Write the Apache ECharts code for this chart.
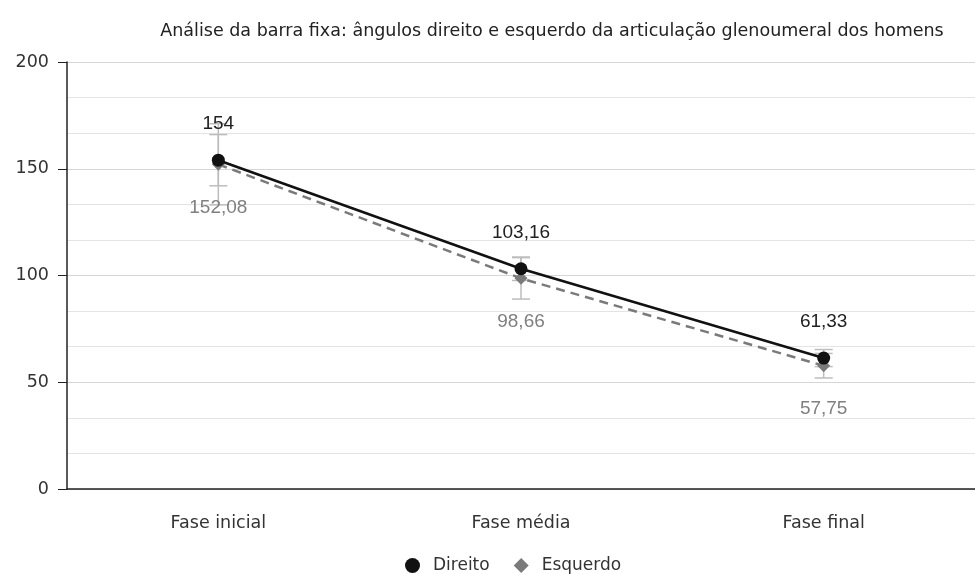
<!DOCTYPE html>
<html>
<head>
<meta charset="utf-8">
<script src="https://cdn.jsdelivr.net/npm/echarts@6/dist/echarts.min.js"></script>
<style>
  html, body { margin: 0; padding: 0; background: #fff; }
  #chart { width: 975px; height: 574px; }
</style>
</head>
<body>
<div id="chart"></div>
<script>
const categories = ['Fase inicial', 'Fase média', 'Fase final']
const direito = [154, 103.16, 61.33]
const esquerdo = [152.08, 98.66, 57.75]
// half-width of the error bars
const direitoErr = [12, 5.5, 4]
const esquerdoErr = [19, 9.7, 5.75]

const fmt = (v) => String(v).replace('.', ',')

function errorData(values, errs) {
  return values.map((v, i) => [i, v - errs[i], v + errs[i]])
}

function renderErrorBar(params, api) {
  const x = api.value(0)
  const low = api.coord([x, api.value(1)])
  const high = api.coord([x, api.value(2)])
  const half = 9
  const style = { stroke: '#bdbdbd', lineWidth: 1.5 }
  return {
    type: 'group',
    children: [
      { type: 'line', shape: { x1: low[0], y1: low[1], x2: high[0], y2: high[1] }, style },
      { type: 'line', shape: { x1: low[0] - half, y1: low[1], x2: low[0] + half, y2: low[1] }, style },
      { type: 'line', shape: { x1: high[0] - half, y1: high[1], x2: high[0] + half, y2: high[1] }, style },
    ],
  }
}

const chart = echarts.init(document.getElementById('chart'))

chart.setOption({
  animation: false,
  textStyle: { fontFamily: 'DejaVu Sans' },
  title: {
    text: 'Análise da barra fixa: ângulos direito e esquerdo da articulação glenoumeral dos homens',
    left: 547,
    top: 17,
    textAlign: 'center',
    textStyle: { fontSize: 17.5, fontWeight: 'normal', color: '#222', fontFamily: 'DejaVu Sans' },
  },
  legend: {
    top: 552,
    left: 400,
    itemWidth: 15,
    itemHeight: 15,
    itemGap: 24,
    textStyle: { fontSize: 17, color: '#333', padding: [0, 0, 0, 8] },
    data: [
      { name: 'Direito', icon: 'circle' },
      { name: 'Esquerdo', icon: 'diamond' },
    ],
  },
  grid: { left: 67, right: -11, top: 62, bottom: 85 },
  xAxis: {
    type: 'category',
    data: categories,
    axisLine: { lineStyle: { color: '#222', width: 1.5 } },
    axisTick: { alignWithLabel: true, length: 10, lineStyle: { color: '#222' } },
    axisLabel: { color: '#333', fontSize: 17.5, margin: 25 },
  },
  yAxis: {
    type: 'value',
    min: 0,
    max: 200,
    interval: 50,
    axisLine: { show: true, lineStyle: { color: '#222', width: 1.5 } },
    axisTick: { show: true, length: 9, lineStyle: { color: '#222' } },
    axisLabel: { color: '#333', fontSize: 17.5, margin: 18 },
    splitLine: { lineStyle: { color: '#d6d6d6' } },
    minorTick: { show: false, splitNumber: 3 },
    minorSplitLine: { show: true, lineStyle: { color: '#e4e4e4' } },
  },
  series: [
    {
      type: 'custom',
      name: 'errD',
      renderItem: renderErrorBar,
      data: errorData(direito, direitoErr),
      z: 1,
      silent: true,
    },
    {
      type: 'custom',
      name: 'errE',
      renderItem: renderErrorBar,
      data: errorData(esquerdo, esquerdoErr),
      z: 1,
      silent: true,
    },
    {
      name: 'Esquerdo',
      type: 'line',
      data: esquerdo,
      symbol: 'diamond',
      symbolSize: 13,
      itemStyle: { color: '#7a7a7a' },
      lineStyle: { color: '#7a7a7a', width: 2.5, type: [9, 6] },
      label: {
        show: true,
        position: 'bottom',
        distance: 27,
        color: '#808080',
        fontSize: 19,
        fontFamily: 'Liberation Sans',
        formatter: (p) => fmt(p.value),
      },
      z: 3,
    },
    {
      name: 'Direito',
      type: 'line',
      data: direito,
      symbol: 'circle',
      symbolSize: 13,
      itemStyle: { color: '#111' },
      lineStyle: { color: '#111', width: 2.5 },
      label: {
        show: true,
        position: 'top',
        distance: 20,
        color: '#222',
        fontSize: 19,
        fontFamily: 'Liberation Sans',
        formatter: (p) => fmt(p.value),
      },
      z: 4,
    },
  ],
})
</script>
</body>
</html>
